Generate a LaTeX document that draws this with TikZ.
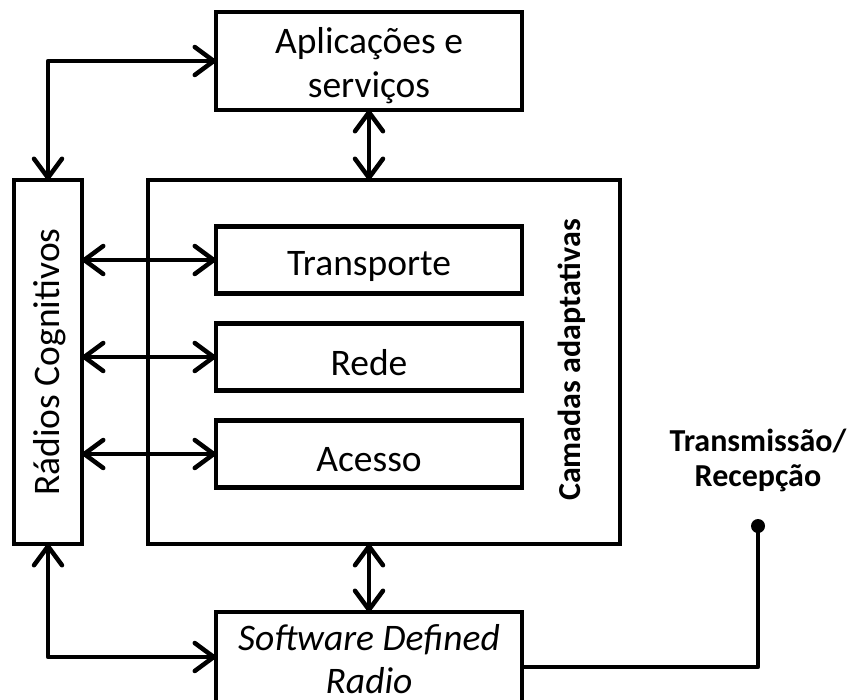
\documentclass[tikz,border=0pt]{standalone}
\usepackage{fontspec}
\setmainfont{Carlito}
\usetikzlibrary{arrows.meta}

\tikzset{
  box/.style={draw=black, line width=4.5pt, fill=white, inner sep=0pt, outer sep=0pt},
  link/.style={line width=4.5pt, line join=round},
  barb/.tip={Straight Barb[length=19pt,width=28pt,line cap=round,line join=round]},
  biarrow/.style={link, barb-barb},
  boldlabel/.style={font=\fontsize{32}{35}\selectfont\bfseries, align=center, inner sep=0pt},
  plainlabel/.style={font=\fontsize{37.5}{44}\selectfont, align=center, inner sep=0pt}
}

\begin{document}
\begin{tikzpicture}[x=1pt, y=-1pt]
  \useasboundingbox (0,0) rectangle (848,699);
  \clip (0,0) rectangle (848,699);

  % outer frame of the adaptive layers
  \node[box, minimum width=472pt, minimum height=364pt] (layers) at (384,362) {};
  \node[boldlabel, rotate=90] (layerslabel) at (572,360) {Camadas adaptativas};

  % blocks
  \node[box, minimum width=306pt, minimum height=98pt] (apps) at (369,61) {};
  \node[box, minimum width=306pt, minimum height=67pt] (transp) at (369,260) {};
  \node[box, minimum width=306pt, minimum height=67pt] (rede) at (369,357) {};
  \node[box, minimum width=306pt, minimum height=67pt] (acesso) at (369,454) {};
  \node[box, minimum width=306pt, minimum height=90pt] (sdr) at (369,657) {};

  % block texts, set a little below the geometric centres
  \node[plainlabel] (appstext) at ([yshift=-5pt]apps.center) {Aplicações e\\serviços};
  \node[plainlabel] (transptext) at ([yshift=-6pt]transp.center) {Transporte};
  \node[plainlabel] (redetext) at ([yshift=-6pt]rede.center) {Rede};
  \node[plainlabel] (acessotext) at ([yshift=-6pt]acesso.center) {Acesso};
  \node[plainlabel, font=\fontsize{37.5}{43}\selectfont] (sdrtext) at (369,659) {\itshape Software Defined\\\itshape Radio};

  % cognitive radio column
  \node[box, minimum width=68pt, minimum height=364pt] (rc) at (48,362) {};
  \node[plainlabel, rotate=90] (rclabel) at ([xshift=2pt]rc.center) {Rádios Cognitivos};

  % antenna end point and its label
  \coordinate (ant) at (758,526);
  \node[boldlabel] (txrx) at (758,460) {Transmissão/\\Recepção};

  % connectors
  \draw[biarrow] (rc.north) |- (apps.west);
  \draw[biarrow] (rc.south) |- (sdr.west);
  \draw[biarrow] (rc.east |- transp.west) -- (transp.west);
  \draw[biarrow] (rc.east |- rede.west) -- (rede.west);
  \draw[biarrow] (rc.east |- acesso.west) -- (acesso.west);
  \draw[biarrow] (apps.south) -- (apps.south |- layers.north);
  \draw[biarrow] (apps.south |- layers.south) -- (sdr.north);
  \draw[link] ([yshift=-10pt]sdr.east) -| (ant);
  \fill (ant) circle (7pt);
\end{tikzpicture}
\end{document}
